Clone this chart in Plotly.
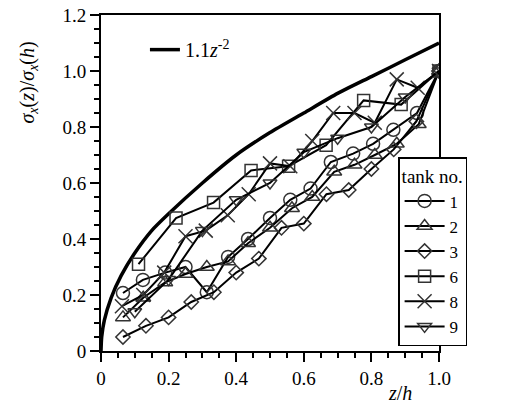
import plotly.graph_objects as go

# ---- data ----
curve_z = [0, 0.002, 0.01, 0.03, 0.06, 0.1, 0.15, 0.2, 0.3, 0.4, 0.5, 0.6, 0.7, 0.8, 0.9, 1.0]
curve_v = [0, 0.05, 0.11, 0.19, 0.27, 0.35, 0.43, 0.49, 0.60, 0.70, 0.78, 0.85, 0.92, 0.98, 1.04, 1.10]

tank1_z = [0.065, 0.124, 0.19, 0.25, 0.313, 0.376, 0.435, 0.5, 0.56, 0.62, 0.68, 0.746, 0.805, 0.865, 0.935, 1.0]
tank1_v = [0.207, 0.254, 0.28, 0.30, 0.21, 0.336, 0.40, 0.475, 0.54, 0.58, 0.675, 0.705, 0.74, 0.79, 0.85, 1.0]

tank2_z = [0.065, 0.125, 0.19, 0.25, 0.313, 0.376, 0.435, 0.5, 0.565, 0.625, 0.69, 0.75, 0.81, 0.875, 0.94, 1.0]
tank2_v = [0.12, 0.19, 0.245, 0.275, 0.30, 0.32, 0.385, 0.44, 0.51, 0.55, 0.64, 0.665, 0.70, 0.74, 0.81, 1.0]

tank3_z = [0.065, 0.133, 0.2, 0.267, 0.334, 0.4, 0.467, 0.534, 0.6, 0.667, 0.733, 0.8, 0.866, 0.933, 1.0]
tank3_v = [0.05, 0.09, 0.12, 0.175, 0.21, 0.28, 0.33, 0.44, 0.455, 0.56, 0.575, 0.65, 0.72, 0.82, 1.0]

tank6_z = [0.111, 0.222, 0.333, 0.444, 0.555, 0.666, 0.777, 0.888, 1.0]
tank6_v = [0.31, 0.475, 0.53, 0.645, 0.66, 0.735, 0.895, 0.88, 1.0]

tank8_z = [0.062, 0.125, 0.187, 0.25, 0.31, 0.375, 0.437, 0.5, 0.56, 0.625, 0.687, 0.75, 0.81, 0.875, 0.937, 1.0]
tank8_v = [0.16, 0.2, 0.28, 0.41, 0.43, 0.485, 0.56, 0.67, 0.66, 0.75, 0.85, 0.85, 0.815, 0.97, 0.94, 1.0]

tank9_z = [0.1, 0.2, 0.3, 0.4, 0.5, 0.6, 0.7, 0.8, 0.9, 1.0]
tank9_v = [0.14, 0.255, 0.43, 0.54, 0.60, 0.71, 0.76, 0.80, 0.907, 1.0]

tank_names = ["1", "2", "3", "6", "8", "9"]
tank_symbols = ["circle-open", "triangle-up-open", "diamond-open", "square-open", "x-thin-open", "triangle-down-open"]
tank_sizes = [13, 13, 11, 12, 14, 12]

FONT = "Liberation Serif, DejaVu Serif, serif"

fig = go.Figure()

fig.add_trace(go.Scatter(
    x=curve_z, y=curve_v, mode="lines", line=dict(color="black", width=3.5, shape="spline", smoothing=0.6),
    name="1.1<i>z</i><sup>-2</sup>", legend="legend2"))

series = [(tank1_z, tank1_v), (tank2_z, tank2_v), (tank3_z, tank3_v),
          (tank6_z, tank6_v), (tank8_z, tank8_v), (tank9_z, tank9_v)]
for (zs, vs), nm, sym, sz in zip(series, tank_names, tank_symbols, tank_sizes):
    fig.add_trace(go.Scatter(
        x=zs, y=vs, mode="lines+markers", name=nm,
        line=dict(color="black", width=2),
        marker=dict(symbol=sym, size=sz, color="#333333", line=dict(color="#333333", width=1.5)),
        legend="legend"))

axis_common = dict(
    showline=True, linecolor="black", linewidth=2, mirror=True,
    ticks="outside", ticklen=9, tickwidth=1.5, tickcolor="black",
    showgrid=False, zeroline=False,
    tickfont=dict(family=FONT, size=19, color="black"),
)

fig.update_xaxes(range=[0, 1.0], tickvals=[0, 0.2, 0.4, 0.6, 0.8, 1.0],
                 ticktext=["0", "0.2", "0.4", "0.6", "0.8", "1.0"],
                 minor=dict(dtick=0.05, ticks="outside", ticklen=5, tickwidth=1.5, tickcolor="black"),
                 **axis_common)
fig.update_yaxes(range=[0, 1.2], tickvals=[0, 0.2, 0.4, 0.6, 0.8, 1.0, 1.2],
                 ticktext=["0", "0.2", "0.4", "0.6", "0.8", "1.0", "1.2"],
                 minor=dict(dtick=0.05, ticks="outside", ticklen=5, tickwidth=1.5, tickcolor="black"),
                 **axis_common)

fig.update_layout(
    width=512, height=413,
    margin=dict(l=101, r=73, t=15, b=62, autoexpand=False),
    paper_bgcolor="white", plot_bgcolor="white",
    font=dict(family=FONT, size=19, color="black"),
    showlegend=True,
    legend=dict(x=0.879, y=0.577, xanchor="left", yanchor="top",
                bgcolor="white", bordercolor="black", borderwidth=1.5,
                title=dict(text="tank no.", font=dict(family=FONT, size=19)),
                font=dict(family=FONT, size=17), tracegroupgap=0, itemwidth=40),
    legend2=dict(x=0.13, y=0.955, xanchor="left", yanchor="top",
                 bgcolor="rgba(0,0,0,0)", borderwidth=0,
                 font=dict(family=FONT, size=20)),
    annotations=[
        dict(text="<i>σ<sub>x</sub></i>(<i>z</i>)/<i>σ<sub>x</sub></i>(<i>h</i>)", xref="paper", yref="paper",
             x=-0.215, y=0.80, xanchor="center", yanchor="middle", textangle=-90, showarrow=False,
             font=dict(family=FONT, size=20)),
        dict(text="<i>z</i>/<i>h</i>", xref="paper", yref="paper",
             x=0.885, y=-0.085, xanchor="center", yanchor="top", showarrow=False,
             font=dict(family=FONT, size=20)),
    ],
)

fig.write_html("out.html", config={"displayModeBar": False},
               post_script="document.body.style.margin='0';")
